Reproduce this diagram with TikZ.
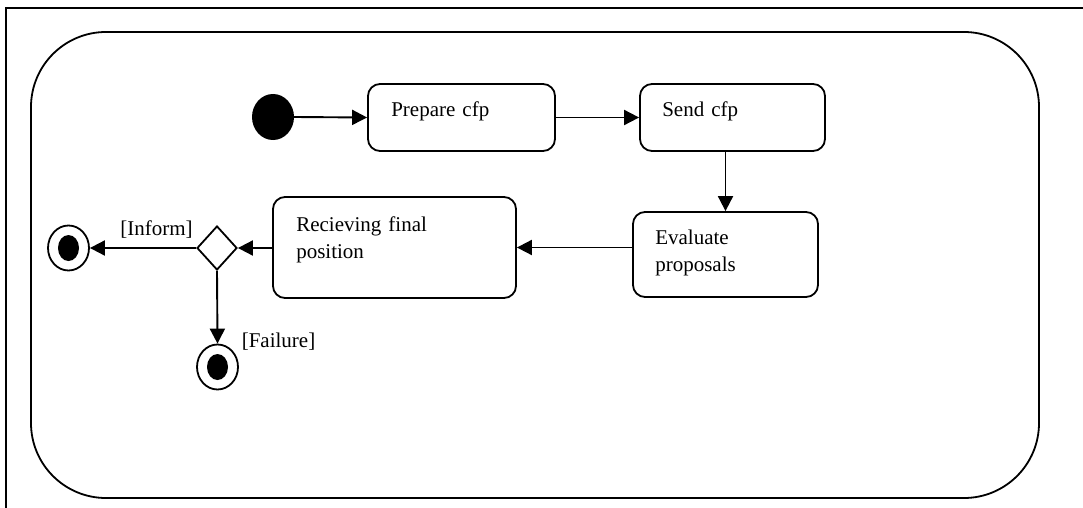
\documentclass[tikz,border=0pt]{standalone}
\usepackage{fontspec}
\setmainfont{Liberation Serif}
\usetikzlibrary{arrows.meta,shapes.geometric}
\begin{document}
\begin{tikzpicture}[x=1pt,y=-1pt,
  font=\fontsize{21}{27}\selectfont,
  action/.style={draw,line width=1.8pt,rounded corners=12pt,inner sep=0pt},
  atext/.style={anchor=base west,inner sep=0pt,text width=#1,align=left},
  flow/.style={line width=1.9pt,-{Triangle[length=15pt,width=15pt]}},
  guard/.style={anchor=base,inner sep=0pt},
  startnode/.style={ellipse,fill=black,minimum width=42pt,minimum height=46pt,inner sep=0pt},
  endnode/.style={ellipse,draw,line width=1.8pt,minimum width=41pt,minimum height=45pt,inner sep=0pt},
  enddot/.style={ellipse,fill=black,minimum width=21pt,minimum height=26pt,inner sep=0pt},
  choice/.style={diamond,draw,line width=1.8pt,minimum width=40pt,minimum height=44pt,inner sep=0pt,shape aspect=0.91}]
  \useasboundingbox (0,0) rectangle (1083,508);
  % page frame
  \draw[line width=2.2pt] (1083,8) -- (6,8) -- (6,508);
  % enclosing activity
  \draw[line width=1.8pt,rounded corners=75pt] (31,32) rectangle (1039,498);

  % start
  \node[startnode] (start) at (273,117) {};
  % actions
  \node[action,minimum width=187pt,minimum height=67pt] (prep) at (461.5,117.5) {};
  \node[action,minimum width=185pt,minimum height=67pt] (send) at (732.5,117.5) {};
  \node[action,minimum width=185pt,minimum height=85pt] (eval) at (725.5,254.5) {};
  \node[action,minimum width=243pt,minimum height=101pt] (recv) at (394.5,247.5) {};
  \node[atext=150pt] (prept) at ([shift={(24,33)}]prep.north west) {Prepare cfp};
  \node[atext=150pt] (sendt) at ([shift={(23,33)}]send.north west) {Send cfp};
  \node[atext=150pt] (evalt) at ([shift={(23,33)}]eval.north west) {Evaluate\\proposals};
  \node[atext=200pt] (recvt) at ([shift={(24,35)}]recv.north west) {Recieving final\\position};

  % decision and final states
  \node[choice] (dec) at (217,248) {};
  \node[endnode] (fin1) at (68.5,248) {};
  \node[enddot] at (fin1) {};
  \node[endnode] (fin2) at (217.5,367) {};
  \node[enddot] at (fin2) {};

  % guards
  \node[guard] (inf) at (156.5,235) {[Inform]};
  \node[guard] (fail) at (278.5,347) {[Failure]};

  % transitions
  \draw[flow] (start.east) -- (prep.west);
  \draw[flow] (prep.east) -- (send.west);
  \draw[flow] (eval.north |- send.south) -- (eval.north);
  \draw[flow] (eval.west |- recv.east) -- (recv.east);
  \draw[flow] (recv.west |- dec.east) -- (dec.east);
  \draw[flow] (dec.west) -- (fin1.east);
  \draw[flow] (dec.south) -- (fin2.north);
\end{tikzpicture}
\end{document}
